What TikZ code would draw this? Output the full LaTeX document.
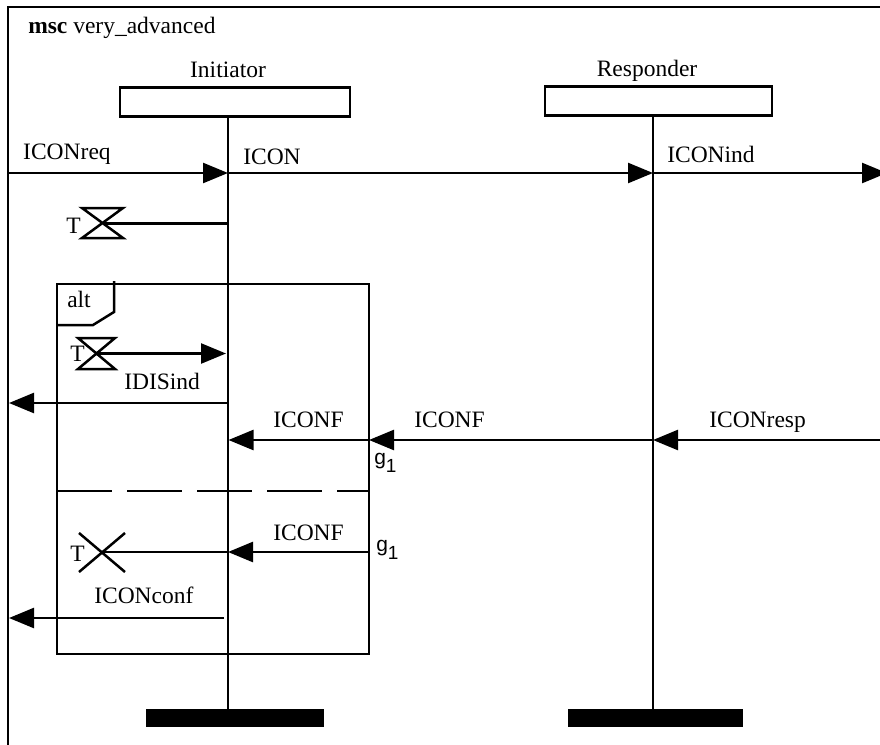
\documentclass[tikz,border=0pt]{standalone}
\usepackage{fontspec}
\setmainfont{Liberation Serif}
\setsansfont{Liberation Sans}
\usetikzlibrary{arrows.meta}
\begin{document}
\begin{tikzpicture}[x=1pt,y=-1pt,line width=2.5pt,
  msg/.style={-{Triangle[length=25pt,width=20pt]}},
  lbl/.style={anchor=base west,inner sep=0pt,font=\fontsize{23.5}{28}\selectfont},
  clbl/.style={anchor=base,inner sep=0pt,font=\fontsize{23.5}{28}\selectfont},
  gate/.style={anchor=base west,inner sep=0pt,font=\sffamily\fontsize{21}{24}\selectfont},
  head/.style={draw,minimum height=29pt,inner sep=0pt},
  stopbar/.style={fill=black,draw=none}]
\useasboundingbox (0,0) rectangle (880,744);
\clip (0,0) rectangle (880,744);
% frame
\coordinate (ftl) at (8,7);
\coordinate (fbl) at (8,760);
\coordinate (ftr) at (900,7);
\draw[line cap=rect] (fbl) -- (ftl) -- (ftr);
\node[lbl] (title) at (27,33) {\textbf{msc} very\_advanced};
% instances
\node[clbl] (iname) at (228,77) {Initiator};
\node[clbl] (rname) at (647,76) {Responder};
\node[head,minimum width=230pt] (ihead) at (235,102) {};
\node[head,minimum width=227pt] (rhead) at (658.5,101) {};
\coordinate (itop) at (228,116.5);
\coordinate (ibot) at (228,710);
\coordinate (rtop) at (653,115.5);
\coordinate (rbot) at (653,710);
\draw (itop) -- (ibot);
\draw (rtop) -- (rbot);
\path[stopbar] (146,709) rectangle (324,727);
\path[stopbar] (568,709) rectangle (743,727);
% ICON messages
\coordinate (envL1) at (8,173);
\coordinate (i1) at (228,173);
\coordinate (r1) at (653,173);
\coordinate (envR1) at (887,173);
\draw[msg] (envL1) -- (i1);
\draw[msg] (i1) -- (r1);
\draw[msg] (r1) -- (envR1);
\node[lbl] (lreq) at (22,159) {ICONreq};
\node[lbl] (licon) at (242,164) {ICON};
\node[lbl] (lind) at (666,162) {ICONind};
% timer 1
\coordinate (t1) at (102.5,223.5);
\coordinate (i2) at (228,223.5);
\draw (82,208) -- (123,208) -- (82,238) -- (123,238) -- cycle;
\draw (t1) -- (i2);
\node[lbl] (lt1) at (65,233) {T};
% alt box
\draw (57,284) rectangle (369,654);
\draw (57,325) -- (93,325) -- (114,312) -- (114,281);
\node[lbl] (lalt) at (66,307) {alt};
\draw[dash pattern=on 55pt off 15pt] (57,491) -- (369,491);
% timer 2 (timeout)
\coordinate (t2) at (96.5,353.5);
\coordinate (i3) at (226,353.5);
\draw (78,338) -- (115,338) -- (78,369) -- (115,369) -- cycle;
\draw[msg] (t2) -- (i3);
\node[lbl] (lt2) at (69,361) {T};
% IDISind
\coordinate (i4) at (228,403);
\coordinate (envL2) at (9,403);
\draw[msg] (i4) -- (envL2);
\node[lbl] (lidis) at (123,389) {IDISind};
% ICONF / ICONresp
\coordinate (envR2) at (890,440);
\coordinate (r5) at (653,440);
\coordinate (g1a) at (369,440);
\coordinate (i5) at (228.5,440);
\draw[msg] (envR2) -- (r5);
\draw[msg] (r5) -- (g1a);
\draw[msg] (g1a) -- (i5);
\node[lbl] (lresp) at (708,427) {ICONresp};
\node[lbl] (lconf2) at (413,427) {ICONF};
\node[lbl] (lconf1) at (272,427) {ICONF};
\node[gate] (lg1a) at (373,464) {g\raisebox{-8pt}{\fontsize{19}{20}\selectfont 1}};
% timer 3 (stop)
\coordinate (t3) at (102,552);
\coordinate (i6) at (228,552);
\coordinate (g1b) at (369,552);
\draw (79,533) -- (125,572);
\draw (79,572) -- (125,533);
\draw (t3) -- (i6);
\draw[msg] (g1b) -- (i6);
\node[lbl] (lt3) at (69,561) {T};
\node[lbl] (lconf3) at (272,540) {ICONF};
\node[gate] (lg1b) at (375,551) {g\raisebox{-8pt}{\fontsize{19}{20}\selectfont 1}};
% ICONconf
\coordinate (i7) at (224,618);
\coordinate (envL3) at (9,618);
\draw[msg] (i7) -- (envL3);
\node[lbl] (lcconf) at (93,603) {ICONconf};
\end{tikzpicture}
\end{document}
